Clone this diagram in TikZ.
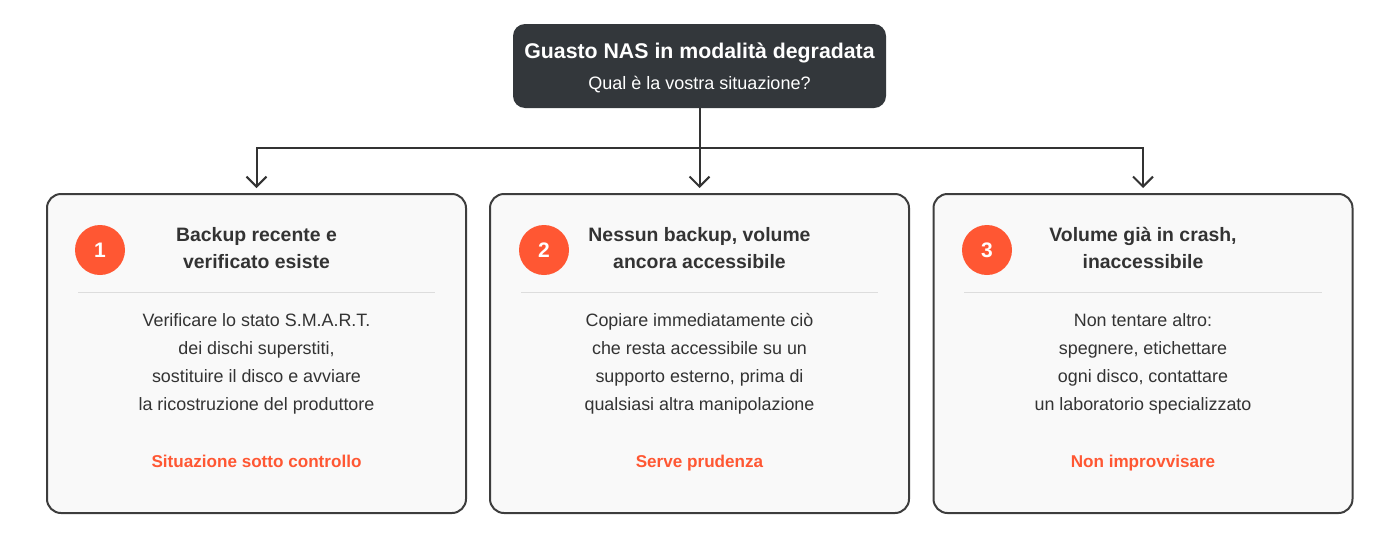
\documentclass[tikz,border=0pt]{standalone}
\usepackage{fontspec}
\setmainfont{Liberation Sans}
\usetikzlibrary{arrows.meta}
\definecolor{darkbox}{HTML}{33373B}
\definecolor{ink}{HTML}{333333}
\definecolor{accent}{HTML}{FF5733}
\definecolor{cardfill}{HTML}{F9F9F9}
\definecolor{sep}{HTML}{DDDDDD}
\tikzset{
  topbox/.style={draw=none, fill=darkbox, rounded corners=12, minimum width=373, minimum height=84, inner sep=0},
  card/.style={draw=ink!95, line width=2, fill=cardfill, rounded corners=14, minimum width=419, minimum height=319, inner sep=0},
  badge/.style={circle, fill=accent, minimum size=50, inner sep=0, text=white, font=\fontsize{21}{24}\selectfont\bfseries},
  ctitle/.style={text=ink, align=center, font=\fontsize{19.4}{27}\selectfont\bfseries},
  cbody/.style={text=ink, align=center, font=\fontsize{17.9}{28}\selectfont},
  cfoot/.style={text=accent, anchor=base, inner sep=0, font=\fontsize{17.1}{20}\selectfont\bfseries},
  conn/.style={draw=ink, line width=2},
  arr/.style={conn, -{Straight Barb[length=10, width=20, line width=2]}, shorten >=5},
}
\begin{document}
\begin{tikzpicture}[x=1pt, y=-1pt]
\useasboundingbox (0,0) rectangle (1400,544);
\node[topbox] (top) at (699.5,66) {};
\node[text=white, font=\fontsize{21.3}{24}\selectfont\bfseries] (toptitle) at (699.5,53) {Guasto NAS in modalità degradata};
\node[text=white, font=\fontsize{18}{20}\selectfont] (topsub) at (699.5,85) {Qual è la vostra situazione?};

\node[card] (c1) at (256.5,353.5) {};
\node[card] (c2) at (699.5,353.5) {};
\node[card] (c3) at (1143,353.5) {};

\coordinate (j) at (699.5,148);
\draw[conn] (top.south) -- (j);
\draw[arr] (j) -| (c1.north);
\draw[arr] (j) -- (c2.north);
\draw[arr] (j) -| (c3.north);

% card 1
\node[badge] (b1) at (100,250) {1};
\node[ctitle] (t1) at (256.5,248) {Backup recente e\\verificato esiste};
\draw[sep, line width=1] (78,292) -- (435,292);
\node[cbody] (d1) at (256.5,364) {Verificare lo stato S.M.A.R.T.\\dei dischi superstiti,\\sostituire il disco e avviare\\la ricostruzione del produttore};
\node[cfoot] (f1) at (256.5,467) {Situazione sotto controllo};

% card 2
\node[badge] (b2) at (544,250) {2};
\node[ctitle] (t2) at (699.5,248) {Nessun backup, volume\\ancora accessibile};
\draw[sep, line width=1] (521,292) -- (878,292);
\node[cbody] (d2) at (699.5,364) {Copiare immediatamente ciò\\che resta accessibile su un\\supporto esterno, prima di\\qualsiasi altra manipolazione};
\node[cfoot] (f2) at (699.5,467) {Serve prudenza};

% card 3
\node[badge] (b3) at (987,250) {3};
\node[ctitle] (t3) at (1143,248) {Volume già in crash,\\inaccessibile};
\draw[sep, line width=1] (964,292) -- (1322,292);
\node[cbody] (d3) at (1143,364) {Non tentare altro:\\spegnere, etichettare\\ogni disco, contattare\\un laboratorio specializzato};
\node[cfoot] (f3) at (1143,467) {Non improvvisare};
\end{tikzpicture}
\end{document}
